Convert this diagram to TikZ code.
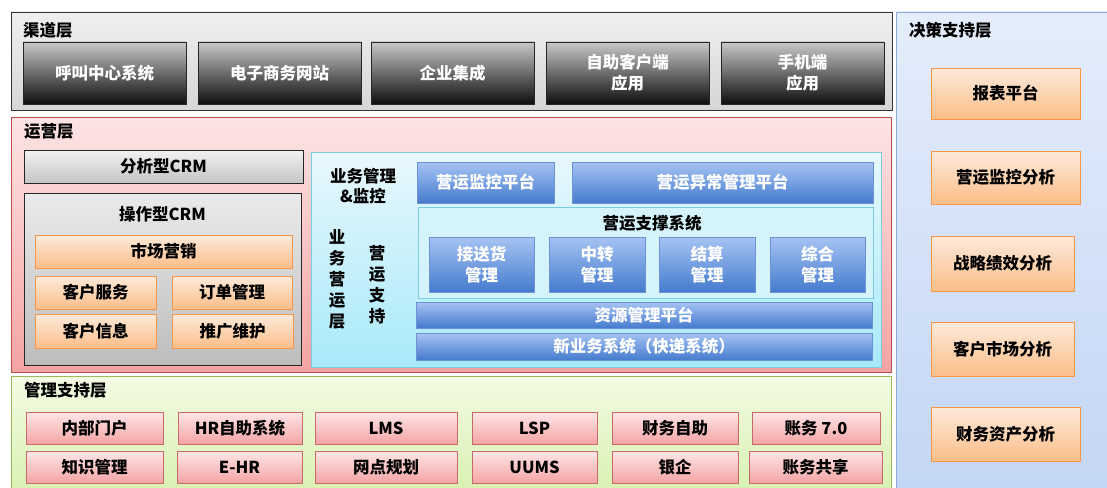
\documentclass[tikz,border=0pt]{standalone}
\usepackage{fontspec}
\setmainfont{Noto Sans CJK SC}
\usetikzlibrary{shadows}
\definecolor{chanT}{HTML}{C9C9C9}
\definecolor{chanB}{HTML}{0E0E0E}
\definecolor{layG1}{HTML}{EFEFEF}
\definecolor{layG2}{HTML}{D6D6D6}
\definecolor{opsT}{HTML}{FDE4E4}
\definecolor{opsB}{HTML}{F5A3A3}
\definecolor{opsD}{HTML}{C0504D}
\definecolor{grT}{HTML}{F2F2F2}
\definecolor{grB}{HTML}{C4C4C4}
\definecolor{orT}{HTML}{FDEADB}
\definecolor{orB}{HTML}{FBBE88}
\definecolor{orD}{HTML}{F79646}
\definecolor{cyT}{HTML}{E8F8FC}
\definecolor{cyB}{HTML}{A8E9FA}
\definecolor{cyD}{HTML}{7CCCE0}
\definecolor{blT}{HTML}{A6C3F3}
\definecolor{blB}{HTML}{457BCE}
\definecolor{blD}{HTML}{6A92D4}
\definecolor{gnT}{HTML}{F3FBE4}
\definecolor{gnB}{HTML}{D9F1B2}
\definecolor{gnD}{HTML}{9BBB59}
\definecolor{pkT}{HTML}{FFE6E6}
\definecolor{pkB}{HTML}{F4A4A4}
\definecolor{dcT}{HTML}{E4EDFB}
\definecolor{dcB}{HTML}{C3D6F5}
\definecolor{dcD}{HTML}{8EAADB}
\tikzset{
  base/.style={anchor=north west, inner sep=0pt, outer sep=0pt, align=center, font=\fontsize{16.5}{21}\selectfont\bfseries},
  sh/.style={drop shadow={opacity=0.35, shadow xshift=1.2pt, shadow yshift=-1.2pt, fill=black!70}},
  layer/.style={base, draw, line width=0.8pt},
  ltitle/.style={anchor=west, inner sep=0pt, font=\fontsize{16.5}{21}\selectfont\bfseries},
  chanbox/.style={base, sh, draw=black!85, line width=0.8pt, top color=chanT, bottom color=chanB, text=white},
  graybox/.style={base, draw=black!85, line width=0.8pt, top color=grT, bottom color=grB},
  orbox/.style={base, sh, draw=orD, line width=0.8pt, top color=orT, bottom color=orB},
  blbox/.style={base, sh, draw=blD, line width=0.6pt, top color=blT, bottom color=blB, text=white},
  pkbox/.style={base, sh, draw=opsD!85, line width=0.8pt, top color=pkT, bottom color=pkB},
}
\begin{document}
\begin{tikzpicture}[x=1pt,y=-1pt]
\useasboundingbox (0,0) rectangle (1107,487);
% ---------- decision layer ----------
\node[layer, draw=dcD, top color=dcT, bottom color=dcB, minimum width=212pt, minimum height=478pt] (dec) at (896,12) {};
\node[ltitle] (dect) at (909,30) {决策支持层};
\node[orbox, minimum width=149pt, minimum height=51pt] (d1) at (931,68) {报表平台};
\node[orbox, minimum width=149pt, minimum height=53pt] (d2) at (931,151) {营运监控分析};
\node[orbox, minimum width=143pt, minimum height=55pt] (d3) at (931,236) {战略绩效分析};
\node[orbox, minimum width=143pt, minimum height=54pt] (d4) at (931,322) {客户市场分析};
\node[orbox, minimum width=149pt, minimum height=54pt] (d5) at (931,407) {财务资产分析};
% ---------- channel layer ----------
\node[layer, draw=black!80, top color=layG1, bottom color=layG2, minimum width=881pt, minimum height=98pt] (chan) at (11,12) {};
\node[ltitle] (chant) at (23,30) {渠道层};
\node[chanbox, minimum width=163pt, minimum height=62pt] (c1) at (23,42) {呼叫中心系统};
\node[chanbox, minimum width=163pt, minimum height=62pt] (c2) at (198,42) {电子商务网站};
\node[chanbox, minimum width=163pt, minimum height=62pt] (c3) at (371,42) {企业集成};
\node[chanbox, minimum width=163pt, minimum height=62pt] (c4) at (546,42) {自助客户端\\应用};
\node[chanbox, minimum width=163pt, minimum height=62pt] (c5) at (721,42) {手机端\\应用};
% ---------- operations layer ----------
\node[layer, draw=opsD, top color=opsT, bottom color=opsB, minimum width=880pt, minimum height=255pt] (ops) at (11,117) {};
\node[ltitle] (opst) at (24,131) {运营层};
\node[graybox, minimum width=279pt, minimum height=33pt] (acrm) at (24,150) {分析型CRM};
\node[graybox, top color=black!8, bottom color=black!26, minimum width=277pt, minimum height=172pt] (ocrm) at (24,193) {};
\node[base] (ocrmt) at ([yshift=-21pt]ocrm.north) [anchor=center] {操作型CRM};
\node[orbox, minimum width=257pt, minimum height=33pt] (m1) at (35,235) {市场营销};
\node[orbox, minimum width=121pt, minimum height=33pt] (m2) at (35,276) {客户服务};
\node[orbox, minimum width=120pt, minimum height=33pt] (m3) at (172,276) {订单管理};
\node[orbox, minimum width=121pt, minimum height=34pt] (m4) at (35,314) {客户信息};
\node[orbox, minimum width=121pt, minimum height=34pt] (m5) at (172,314) {推广维护};
% business ops block
\node[base, draw=cyD, line width=0.8pt, top color=cyT, bottom color=cyB, minimum width=570pt, minimum height=215pt] (biz) at (311,152) {};
\node[base, anchor=center] (bizt) at (363,186) {业务管理\\[-1pt]\&监控};
\node[base, anchor=north, font=\fontsize{16.5}{21}\selectfont\bfseries] (v1) at (337,230) {业\\务\\营\\运\\层};
\node[base, anchor=north, font=\fontsize{16.5}{21}\selectfont\bfseries] (v2) at (377,245) {营\\运\\支\\持};
\node[blbox, minimum width=137pt, minimum height=41pt] (b1) at (417,162) {营运监控平台};
\node[blbox, minimum width=301pt, minimum height=41pt] (b2) at (572,162) {营运异常管理平台};
\node[base, draw=cyD, line width=0.8pt, fill=cyT!70!cyB, minimum width=455pt, minimum height=91pt] (sup) at (418,207) {};
\node[base, anchor=center] (supt) at (652,223) {营运支撑系统};
\node[blbox, minimum width=105pt, minimum height=55pt] (s1) at (429,237) {接送货\\管理};
\node[blbox, minimum width=96pt, minimum height=55pt] (s2) at (549,237) {中转\\管理};
\node[blbox, minimum width=96pt, minimum height=55pt] (s3) at (659,237) {结算\\管理};
\node[blbox, minimum width=95pt, minimum height=55pt] (s4) at (770,237) {综合\\管理};
\node[blbox, minimum width=456pt, minimum height=26pt] (r1) at (416,302) {资源管理平台};
\node[blbox, minimum width=456pt, minimum height=27pt] (r2) at (416,333) {新业务系统（快递系统）};
% ---------- management layer ----------
\node[layer, draw=gnD, top color=gnT, bottom color=gnB, minimum width=880pt, minimum height=115pt] (mgmt) at (11,376) {};
\node[ltitle] (mgmtt) at (24,390) {管理支持层};
\node[pkbox, minimum width=137pt, minimum height=32pt] (p11) at (26,412) {内部门户};
\node[pkbox, minimum width=124pt, minimum height=32pt] (p12) at (178,412) {HR自助系统};
\node[pkbox, minimum width=142pt, minimum height=32pt] (p13) at (315,412) {LMS};
\node[pkbox, minimum width=125pt, minimum height=32pt] (p14) at (472,412) {LSP};
\node[pkbox, minimum width=126pt, minimum height=32pt] (p15) at (612,412) {财务自助};
\node[pkbox, minimum width=128pt, minimum height=32pt] (p16) at (752,412) {账务 7.0};
\node[pkbox, minimum width=137pt, minimum height=32pt] (p21) at (26,451) {知识管理};
\node[pkbox, minimum width=125pt, minimum height=32pt] (p22) at (177,451) {E-HR};
\node[pkbox, minimum width=142pt, minimum height=32pt] (p23) at (315,451) {网点规划};
\node[pkbox, minimum width=125pt, minimum height=32pt] (p24) at (472,451) {UUMS};
\node[pkbox, minimum width=126pt, minimum height=32pt] (p25) at (612,451) {银企};
\node[pkbox, minimum width=133pt, minimum height=32pt] (p26) at (749,451) {账务共享};
\end{tikzpicture}
\end{document}
